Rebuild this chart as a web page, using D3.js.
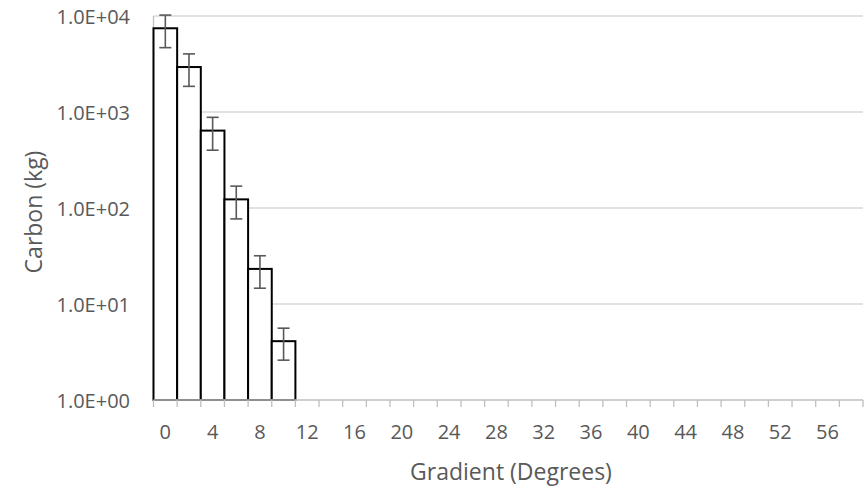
<!DOCTYPE html>
<html>
<head>
<meta charset="utf-8">
<script src="https://cdn.jsdelivr.net/npm/d3@7"></script>
<style>
  html, body { margin: 0; padding: 0; background: #fff; }
  svg { display: block; }
  text { font-family: "Open Sans", "Noto Sans", sans-serif; fill: #595959; }
</style>
</head>
<body>
<svg id="chart" width="867" height="490"></svg>
<script>
// Gradient classes (degrees) on the category axis
const gradients = [0, 2, 4, 6, 8, 10, 12, 14, 16, 18, 20, 22, 24, 26, 28,
                   30, 32, 34, 36, 38, 40, 42, 44, 46, 48, 50, 52, 54, 56, 58];
// Carbon per gradient class (kg) and its error (±)
const carbon    = [7450, 2940, 640, 123, 23.2, 4.1];
const carbonErr = [2770, 1090, 240, 46, 8.6, 1.5];
// Decade ticks on the log axis
const yTicks = [1, 10, 100, 1000, 10000];

const svg = d3.select("#chart");
const plotL = 153.5, plotR = 863, plotT = 16, plotB = 400;

const x = d3.scaleBand().domain(gradients).range([plotL, plotR]).padding(0);
const y = d3.scaleLog().domain([1, 10000]).range([plotB, plotT]);

// Horizontal gridlines
svg.append("g").selectAll("line")
  .data(yTicks.slice(1))
  .join("line")
  .attr("x1", plotL).attr("x2", plotR)
  .attr("y1", d => y(d)).attr("y2", d => y(d))
  .attr("stroke", "#d9d9d9").attr("stroke-width", 1.3);

// Value axis line
svg.append("line")
  .attr("x1", plotL).attr("x2", plotL).attr("y1", plotT).attr("y2", plotB)
  .attr("stroke", "#bfbfbf").attr("stroke-width", 1.3);

// Value axis labels
const fmt = v => "1.0E+" + String(Math.round(Math.log10(v))).padStart(2, "0");
svg.append("g").selectAll("text")
  .data(yTicks)
  .join("text")
  .attr("x", 130).attr("y", d => y(d))
  .attr("text-anchor", "end")
  .attr("dominant-baseline", "central")
  .attr("font-size", 20)
  .text(fmt);

// Bars
const barData = carbon.map((v, i) => ({ g: gradients[i], v, e: carbonErr[i] }));
svg.append("g").selectAll("rect")
  .data(barData)
  .join("rect")
  .attr("x", d => x(d.g))
  .attr("width", x.bandwidth())
  .attr("y", d => y(d.v))
  .attr("height", d => plotB - y(d.v))
  .attr("fill", "#fff")
  .attr("stroke", "#000")
  .attr("stroke-width", 2);

// Category axis line and tick marks at band edges
svg.append("line")
  .attr("x1", plotL).attr("x2", plotR).attr("y1", plotB).attr("y2", plotB)
  .attr("stroke", "#bfbfbf").attr("stroke-width", 1.3);
const edges = gradients.map(g => x(g)).concat([x(gradients[gradients.length - 1]) + x.bandwidth()]);
svg.append("g").selectAll("line")
  .data(edges)
  .join("line")
  .attr("x1", d => d).attr("x2", d => d)
  .attr("y1", plotB).attr("y2", plotB + 7)
  .attr("stroke", "#bfbfbf").attr("stroke-width", 1.3);

// Category labels (every other class)
svg.append("g").selectAll("text")
  .data(gradients.filter((g, i) => i % 2 === 0))
  .join("text")
  .attr("x", d => x(d) + x.bandwidth() / 2)
  .attr("y", 439)
  .attr("text-anchor", "middle")
  .attr("font-size", 20)
  .text(d => d);

// Error bars
const cap = 6;
const eb = svg.append("g").attr("stroke", "#595959").attr("stroke-width", 1.6);
barData.forEach(d => {
  const cx = x(d.g) + x.bandwidth() / 2;
  const y1 = y(d.v + d.e), y0 = y(d.v - d.e);
  eb.append("line").attr("x1", cx).attr("x2", cx).attr("y1", y1).attr("y2", y0);
  eb.append("line").attr("x1", cx - cap).attr("x2", cx + cap).attr("y1", y1).attr("y2", y1);
  eb.append("line").attr("x1", cx - cap).attr("x2", cx + cap).attr("y1", y0).attr("y2", y0);
});

// Axis titles
svg.append("text")
  .attr("x", 511).attr("y", 480)
  .attr("text-anchor", "middle")
  .attr("font-size", 23)
  .text("Gradient (Degrees)");

svg.append("text")
  .attr("transform", "translate(42,212) rotate(-90)")
  .attr("text-anchor", "middle")
  .attr("font-size", 23)
  .text("Carbon (kg)");
</script>
</body>
</html>
